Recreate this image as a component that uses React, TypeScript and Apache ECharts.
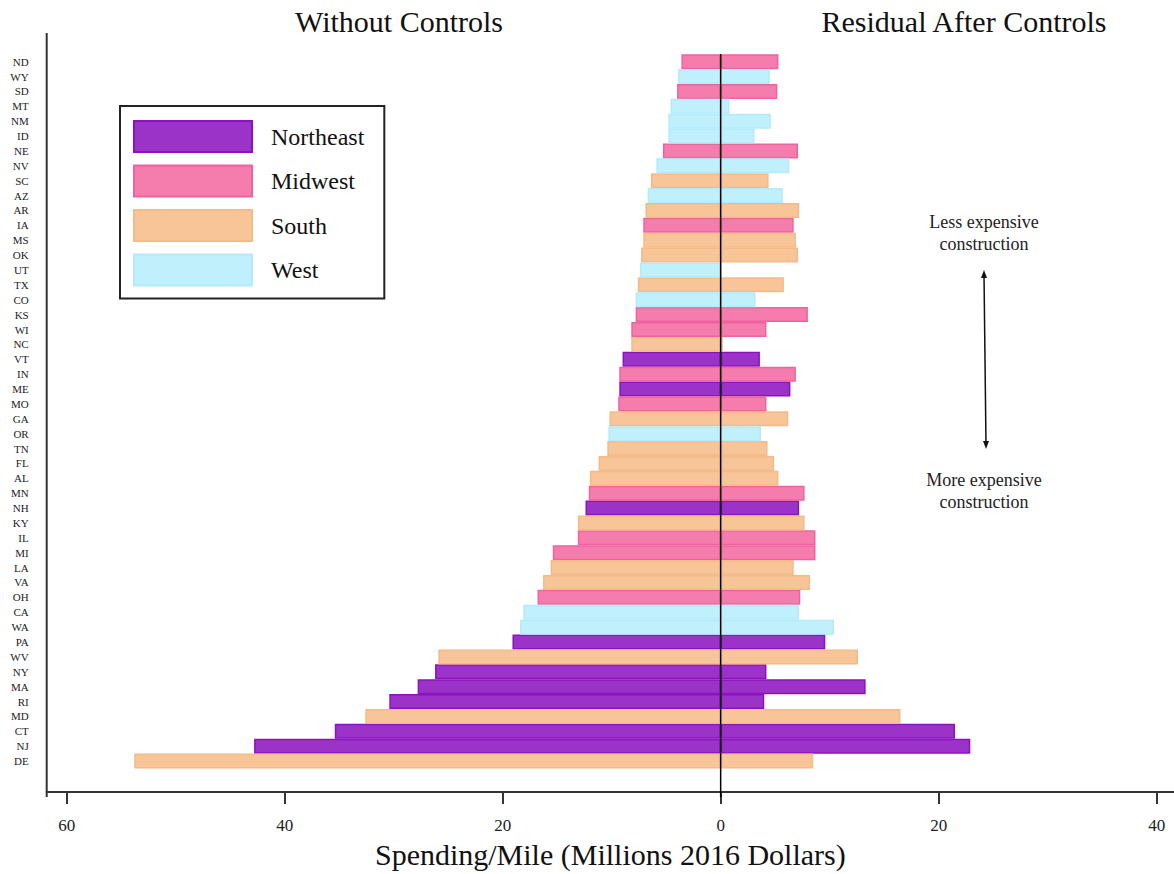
import React, { useEffect, useRef } from "react";
import * as echarts from "echarts";

const states = [
  "ND", "WY", "SD", "MT", "NM", "ID", "NE", "NV", "SC", "AZ",
  "AR", "IA", "MS", "OK", "UT", "TX", "CO", "KS", "WI", "NC",
  "VT", "IN", "ME", "MO", "GA", "OR", "TN", "FL", "AL", "MN",
  "NH", "KY", "IL", "MI", "LA", "VA", "OH", "CA", "WA", "PA",
  "WV", "NY", "MA", "RI", "MD", "CT", "NJ", "DE",
];

const regionOf = [
  "Midwest", "West", "Midwest", "West", "West", "West", "Midwest", "West", "South", "West",
  "South", "Midwest", "South", "South", "West", "South", "West", "Midwest", "Midwest", "South",
  "Northeast", "Midwest", "Northeast", "Midwest", "South", "West", "South", "South", "South", "Midwest",
  "Northeast", "South", "Midwest", "Midwest", "South", "South", "Midwest", "West", "West", "Northeast",
  "South", "Northeast", "Northeast", "Northeast", "South", "Northeast", "Northeast", "South",
];

// Spending per mile without controls (drawn to the left)
const withoutControls = [
  3.6, 3.9, 4.0, 4.6, 4.8, 4.8, 5.3, 5.9, 6.4, 6.7,
  6.9, 7.1, 7.1, 7.3, 7.4, 7.6, 7.8, 7.8, 8.2, 8.2,
  9.0, 9.3, 9.3, 9.4, 10.2, 10.3, 10.4, 11.2, 12.0, 12.1,
  12.4, 13.1, 13.1, 15.4, 15.6, 16.3, 16.8, 18.1, 18.4, 19.1,
  25.9, 26.2, 27.8, 30.4, 32.6, 35.4, 42.8, 53.8,
];

// Residual after controls (drawn to the right)
const residualAfterControls = [
  5.3, 4.5, 5.2, 0.8, 4.6, 3.1, 7.1, 6.3, 4.4, 5.7,
  7.2, 6.7, 6.9, 7.1, 0, 5.8, 3.2, 8.0, 4.2, 0.2,
  3.6, 6.9, 6.4, 4.2, 6.2, 3.7, 4.3, 4.9, 5.3, 7.7,
  7.2, 7.7, 8.7, 8.7, 6.7, 8.2, 7.3, 7.2, 10.4, 9.6,
  12.6, 4.2, 13.3, 4.0, 16.5, 21.5, 22.9, 8.5,
];

const regions = ["Northeast", "Midwest", "South", "West"];
const regionFill: Record<string, string> = {
  Northeast: "#9c33c9",
  Midwest: "#f47dae",
  South: "#f7c597",
  West: "#bff0fc",
};
const regionBorder: Record<string, string> = {
  Northeast: "#8a12c0",
  Midwest: "#f0629e",
  South: "#f4ba88",
  West: "#b2ebfa",
};

const xTickValues = [-60, -40, -20, 0, 20, 40];

export default function App() {
  const ref = useRef<HTMLDivElement>(null);

  useEffect(() => {
    if (!ref.current) return;
    const chart = echarts.init(ref.current, null, { renderer: "svg" });
    const serif = "'Liberation Serif', 'Times New Roman', serif";

    const series: any[] = [];
    regions.forEach((r) => {
      const base = {
        type: "bar",
        name: r,
        barWidth: 15,
        barGap: "-100%",
        itemStyle: { color: regionFill[r], borderColor: regionBorder[r], borderWidth: 1.5 },
        emphasis: { disabled: true },
      };
      series.push({
        ...base,
        data: states.map((_, i) => (regionOf[i] === r ? -withoutControls[i] : "-")),
      });
      series.push({
        ...base,
        data: states.map((_, i) => (regionOf[i] === r ? residualAfterControls[i] : "-")),
      });
    });

    const option: any = {
      animation: false,
      backgroundColor: "#ffffff",
      grid: { left: 46.7, right: 0, top: 54.2, bottom: 100.5, containLabel: false },
      legend: {
        data: regions,
        orient: "vertical",
        left: 120,
        top: 106,
        padding: [14, 20, 12, 13],
        itemWidth: 118,
        itemHeight: 31,
        itemGap: 11.5,
        icon: "rect",
        borderColor: "#222",
        borderWidth: 2,
        selectedMode: false,
        textStyle: { fontFamily: serif, fontSize: 24, lineHeight: 31, color: "#111", padding: [0, 0, 0, 14] },
      },
      xAxis: {
        type: "value",
        min: -61.83,
        max: 41.59,
        position: "bottom",
        offset: 23.5,
        axisLine: { show: true, lineStyle: { color: "#333", width: 2 } },
        axisTick: { show: true, length: 12, customValues: xTickValues, lineStyle: { color: "#333", width: 2 } },
        axisLabel: {
          customValues: xTickValues,
          formatter: (v: number) => String(Math.abs(v)),
          fontFamily: serif,
          fontSize: 17,
          color: "#222",
          margin: 25,
        },
        splitLine: { show: false },
        name: "Spending/Mile (Millions 2016 Dollars)",
        nameLocation: "middle",
        nameGap: 47,
        nameTextStyle: { fontFamily: serif, fontSize: 30, color: "#111" },
      },
      yAxis: {
        type: "category",
        data: states,
        inverse: true,
        axisLine: { show: false },
        axisTick: { show: true, length: 12, alignWithLabel: true, lineStyle: { color: "#333", width: 2 } },
        axisLabel: { interval: 0, fontFamily: serif, fontSize: 11, color: "#222", margin: 18 },
        splitLine: { show: false },
      },
      series,
    };
    chart.setOption(option);

    const zeroX = chart.convertToPixel({ xAxisIndex: 0 }, 0) as number;

    chart.setOption({
      graphic: [
        { type: "line", shape: { x1: 46.7, y1: 33, x2: 46.7, y2: 797 }, style: { stroke: "#333", lineWidth: 2 }, z: 10 },
        { type: "line", shape: { x1: zeroX, y1: 54, x2: zeroX, y2: 797 }, style: { stroke: "#000", lineWidth: 1.5 }, z: 10 },
        {
          type: "text", x: 399, y: 21,
          style: { text: "Without Controls", fontFamily: serif, fontSize: 30, fill: "#111", align: "center", verticalAlign: "middle" },
        },
        {
          type: "text", x: 964, y: 21,
          style: { text: "Residual After Controls", fontFamily: serif, fontSize: 30, fill: "#111", align: "center", verticalAlign: "middle" },
        },
        {
          type: "text", x: 984, y: 233,
          style: { text: "Less expensive\nconstruction", fontFamily: serif, fontSize: 18, lineHeight: 22, fill: "#222", align: "center", verticalAlign: "middle" },
        },
        {
          type: "text", x: 984, y: 491,
          style: { text: "More expensive\nconstruction", fontFamily: serif, fontSize: 18, lineHeight: 22, fill: "#222", align: "center", verticalAlign: "middle" },
        },
        { type: "line", shape: { x1: 984, y1: 274, x2: 986, y2: 445 }, style: { stroke: "#111", lineWidth: 1.5 } },
        { type: "polygon", shape: { points: [[984, 270], [981, 278], [987, 278]] }, style: { fill: "#111" } },
        { type: "polygon", shape: { points: [[986, 449], [983, 441], [989, 441]] }, style: { fill: "#111" } },
      ],
    });

    return () => chart.dispose();
  }, []);

  return <div ref={ref} style={{ position: "fixed", left: 0, top: 0, width: 1174, height: 874 }} />;
}
